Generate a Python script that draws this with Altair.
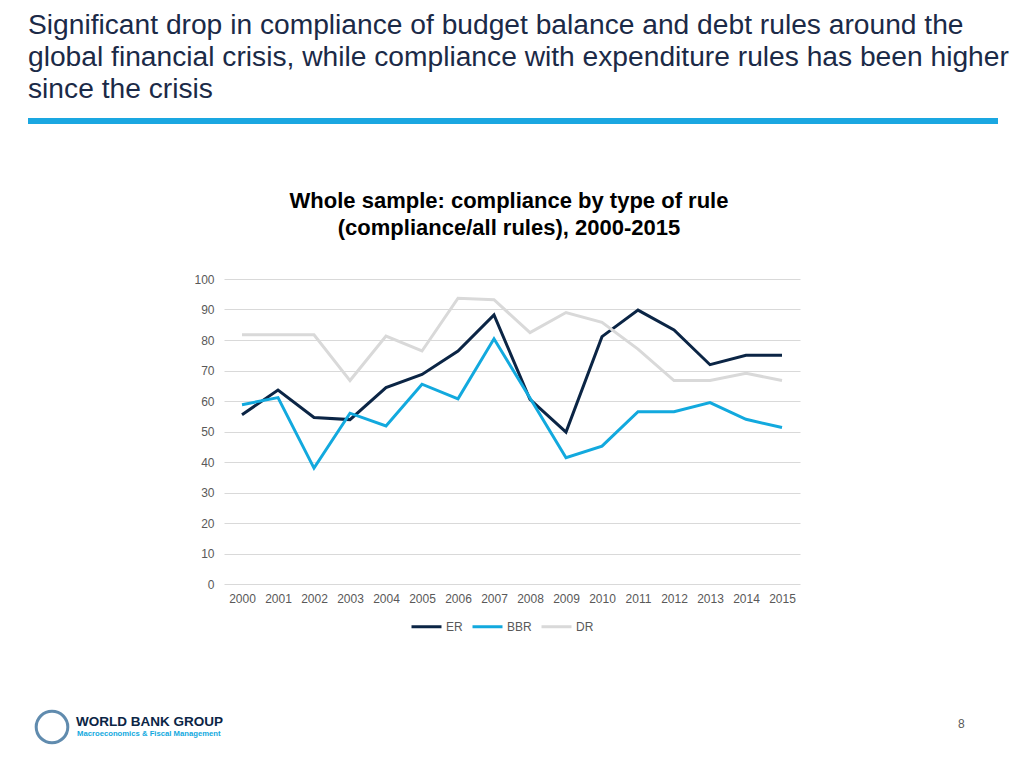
import altair as alt
import pandas as pd

# ---- data ----
years = [str(y) for y in range(2000, 2016)]
er = [55.5, 63.6, 54.6, 53.9, 64.4, 68.7, 76.4, 88.2, 60.5, 49.8, 81.1, 89.8, 83.3, 71.9, 75.0, 75.0]
bbr = [58.8, 61.1, 38.0, 56.0, 51.8, 65.5, 60.7, 80.4, 61.0, 41.4, 45.2, 56.5, 56.5, 59.5, 54.0, 51.3]
dr = [81.7, 81.7, 81.7, 66.7, 81.3, 76.4, 93.7, 93.2, 82.4, 89.0, 85.8, 77.0, 66.7, 66.7, 69.1, 66.7]
series_names = ["ER", "BBR", "DR"]
series_colors = ["#0B2545", "#12A9DE", "#D9D9D9"]
y_ticks = list(range(0, 101, 10))

slide_title = [
    "Significant drop in compliance of budget balance and debt rules around the",
    "global financial crisis, while compliance with expenditure rules has been higher",
    "since the crisis",
]
chart_title = ["Whole sample: compliance by type of rule", "(compliance/all rules), 2000-2015"]
logo_title = "WORLD BANK GROUP"
logo_sub = "Macroeconomics & Fiscal Management"
page_number = "8"

rows = []
for name, vals in zip(series_names, [er, bbr, dr]):
    for yr, v in zip(years, vals):
        rows.append({"year": yr, "value": v, "series": name, "order": series_names.index(name)})
df = pd.DataFrame(rows)

FONT = "Liberation Sans"

lines = alt.Chart(df).mark_line(strokeWidth=3).encode(
    x=alt.X("year:O", scale=alt.Scale(type="point", padding=0.5), sort=years,
            axis=alt.Axis(title=None, labelAngle=0, domain=False, ticks=False,
                          labelPadding=9, labelColor="#595959", labelFontSize=12, labelFont=FONT)),
    y=alt.Y("value:Q", scale=alt.Scale(domain=[0, 100], nice=False),
            axis=alt.Axis(title=None, values=y_ticks, domain=False, ticks=False,
                          labelPadding=10, labelColor="#595959", labelFontSize=12, labelFont=FONT,
                          gridColor="#D9D9D9", gridWidth=1)),
    color=alt.Color("series:N", scale=alt.Scale(domain=series_names, range=series_colors),
                    legend=alt.Legend(title=None, orient="none", legendX=186, legendY=331,
                                      direction="horizontal", symbolType="stroke", symbolSize=900,
                                      symbolStrokeWidth=3, labelFontSize=12, labelColor="#595959",
                                      labelFont=FONT, columnPadding=3, labelOffset=3)),
    detail="order:N",
)


def text_layer(txt, x, y, size, color, weight="normal", align="left", baseline="alphabetic"):
    return alt.Chart(pd.DataFrame({"t": [txt]})).mark_text(
        align=align, baseline=baseline, fontSize=size, color=color, fontWeight=weight, font=FONT
    ).encode(text="t:N", x=alt.value(x), y=alt.value(y))


layers = [lines]
for t, yy in zip(slide_title, [-245, -213, -181]):
    layers.append(text_layer(t, -196, yy, 28.2, "#1B2A47"))
for t, yy in zip(chart_title, [-71, -44]):
    layers.append(text_layer(t, 285, yy, 22, "#000000", weight="bold", align="center"))

blue_bar = alt.Chart(pd.DataFrame({"a": [0]})).mark_rule(color="#1AA7E1", strokeWidth=6).encode(
    x=alt.value(-196), x2=alt.value(774), y=alt.value(-158))
layers.append(blue_bar)

globe = alt.Chart(pd.DataFrame({"a": [0]})).mark_point(
    shape="circle", filled=False, size=1000, strokeWidth=3, color="#1E5B8C").encode(
    x=alt.value(-172), y=alt.value(448))
layers.append(globe)
layers.append(text_layer(logo_title, -148, 443, 13.5, "#0B2545", weight="bold", baseline="middle"))
layers.append(text_layer(logo_sub, -147, 455, 7.7, "#12A9DE", weight="bold", baseline="middle"))
layers.append(text_layer(page_number, 734, 445, 12, "#595959", baseline="middle"))

chart = alt.layer(*layers).properties(
    width=576, height=305,
    autosize=alt.AutoSizeParams(type="none"),
    padding={"left": 216, "top": 271, "right": 216, "bottom": 170},
    background="white",
).configure_view(stroke=None)

chart.save("out.html", embed_options={"renderer": "svg", "actions": False})
